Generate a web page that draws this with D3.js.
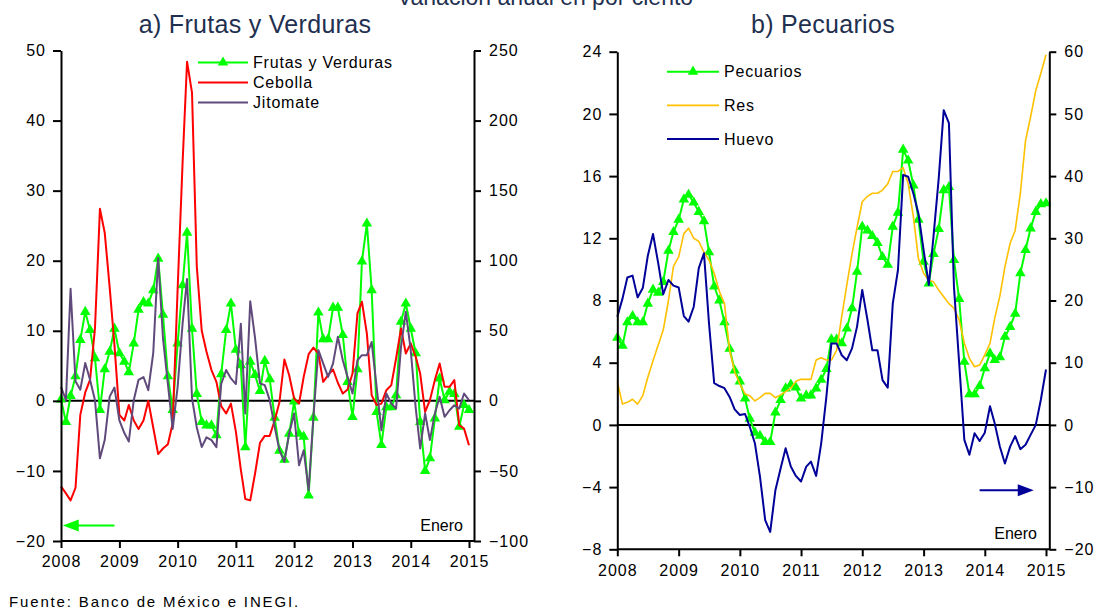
<!DOCTYPE html>
<html>
<head>
<meta charset="utf-8">
<script src="https://cdn.jsdelivr.net/npm/d3@7"></script>
<style>
  body { margin: 0; background: #fff; }
  svg { display: block; font-family: "Liberation Sans", Arial, sans-serif; }
</style>
</head>
<body>
<svg width="1096" height="612"></svg>
<script>
// monthly observations, Jan 2008 .. Jan 2015
const months = d3.timeMonths(new Date(2008, 0, 1), new Date(2015, 0, 2));
const years = d3.timeYears(new Date(2008, 0, 1), new Date(2015, 0, 2));

// a) Frutas y Verduras (left axis)
const frutasVerduras = [0.2, -3.0, 0.7, 3.5, 8.7, 12.7, 10.1, 6.1, -1.3, 4.5, 7.0, 10.3,
  6.8, 5.6, 4.1, 8.2, 13.0, 14.1, 13.9, 15.8, 20.3, 12.3, 3.5, -1.3,
  8.2, 16.5, 24.0, 10.3, 1.0, -3.0, -3.5, -3.5, -4.9, 3.8, 10.1, 13.9,
  7.3, 5.1, -6.6, 5.6, 3.7, 1.4, 5.7, 3.1, -2.4, -7.1, -8.4, -4.7,
  -0.1, -4.7, -5.1, -13.5, -2.4, 12.6, 8.8, 8.8, 13.3, 13.3, 9.4, 2.7,
  -2.3, 4.5, 19.9, 25.3, 15.8, -1.6, -6.3, -0.9, -0.9, 0.8, 11.3, 13.9,
  10.3, 6.8, -3.0, -10.0, -8.2, -2.5, 3.2, 0.1, 1.3, 1.0, -3.7, -0.6,
  -1.3];
// Cebolla (right axis)
const cebolla = [-61, -66, -71, -62, -10, 6, 15, 52, 137, 120, 81, 40,
  -10, -14, -3, -14, -20, -14, 0, -19, -38, -34, -31, -16,
  80, 170, 242, 220, 96, 50, 35, 22, 13.6, -3.8, -9, -2,
  -22, -49, -70, -71, -52, -30, -25, -25, -14, -1, 29.5, 18.3,
  1.7, -1.9, 17.1, 33.3, 38, 33.8, 13.6, 18.3, 22.4, 12.9, 5.2, 8.1,
  19.5, 62.4, 70.7, 48, 4, -3, -2, 7.6, 11.2, 30.2, 51.7, 33.8,
  41, 31.4, 19.5, -7.9, 0.5, 14.8, 26.7, 10, 10, 14.8, -17.4, -19.8,
  -31.7];
// Jitomate (right axis)
const jitomate = [10, 0.5, 80, 14, 8, 27, 15, 0.5, -41, -28, 3, 9.5,
  -14, -23, -29, 0.5, 15, 17, 7.6, 34, 102, 45, 12, -20,
  10, 55, 87, 2, -19, -33, -26, -28, -33, 12, 22, 16,
  12, 55, -9, 71, 45, 12.4, 11.2, 0.5, -18.6, -35.2, -43.6, -23.3,
  -9, -46, -35.2, -63.8, -11.4, 36.2, 26.7, 17.1, 26.7, 45.7, 29, 17.1,
  5.2, 29, 32.6, 32.6, 42, 10, -21, 5.2, -1.9, -5.5, 38.6, 63.6,
  36, -5, -34, -9, -28, -9, 3, -11.4, -6.7, -3.1, -5.5, 5.2,
  0.5];

// b) Pecuarios (left axis)
const pecuarios = [5.6, 5.1, 6.6, 7.0, 6.6, 6.6, 7.8, 8.7, 8.5, 9.2, 11.2, 12.4,
  13.2, 14.5, 14.8, 14.3, 13.7, 13.1, 11.1, 8.9, 8.0, 6.6, 4.9, 3.5,
  2.8, 1.7, 0.4, -0.5, -0.7, -1.1, -1.1, 0.8, 1.6, 2.35, 2.6, 2.4,
  1.7, 1.9, 1.9, 2.35, 2.9, 3.6, 5.5, 5.5, 5.25, 6.2, 7.5, 9.85,
  12.75, 12.5, 12.15, 11.7, 10.8, 10.3, 12.75, 13.65, 17.7, 17.0, 15.4, 13.2,
  10.5, 9.1, 11.0, 12.6, 15.1, 15.3, 10.6, 8.1, 4.06, 1.97, 1.97, 2.5,
  3.64, 4.6, 4.17, 4.35, 5.67, 6.3, 7.15, 9.75, 11.25, 12.64, 13.7, 14.2,
  14.25];
// Res (left axis)
const res = [2.78, 1.34, 1.45, 1.65, 1.34, 1.88, 3.06, 4.13, 5.14, 6.1, 8.0, 10.2,
  10.8, 12.3, 12.65, 12.0, 11.8, 11.1, 10.6, 9.75, 8.57, 7.8, 4.8, 3.42,
  2.63, 1.99, 1.88, 1.54, 1.75, 2.03, 2.03, 1.75, 1.93, 2.14, 2.36, 2.8,
  2.93, 2.93, 2.93, 4.17, 4.32, 4.17, 4.17, 4.8, 7.0, 9.0, 11.0, 12.7,
  14.35, 14.7, 14.9, 14.9, 15.1, 15.5, 16.3, 16.3, 16.54, 15.5, 13.4, 10.7,
  9.75, 9.3, 9.2, 8.67, 8.24, 7.8, 7.5, 6.75, 5.25, 4.28, 3.74, 3.85,
  4.5, 5.25, 6.85, 8.3, 10.17, 11.68, 12.5, 14.9, 18.3, 19.8, 21.5, 22.6,
  23.8];
// Huevo (right axis)
const huevo = [17.4, 20.3, 23.7, 24.0, 20.5, 22.0, 27.2, 30.7, 26.0, 21.0, 23.3, 22.4,
  22.1, 17.5, 16.6, 19.0, 25.2, 27.6, 16.3, 6.7, 6.25, 5.9, 4.5, 2.5,
  1.6, 1.75, -0.3, -3.0, -8.3, -15.3, -17.2, -10.5, -7.0, -3.76, -6.7, -8.2,
  -9.1, -6.7, -5.9, -8.2, -3.0, 4.5, 13.1, 13.1, 11.2, 10.4, 12.3, 15.8,
  21.7, 16.9, 12.0, 12.0, 7.2, 6.0, 19.5, 24.9, 40.2, 39.9, 37.2, 34.0,
  28.1, 22.5, 30.3, 39.6, 50.6, 48.5, 22.2, 10, -2.4, -4.8, -1.35, -2.6,
  -1.25, 3.0, 0.25, -3.5, -6.2, -3.5, -1.8, -3.9, -3.2, -1.6, 0, 4.0,
  8.9];

const ticksLa = [-20, -10, 0, 10, 20, 30, 40, 50];
const ticksRa = [-100, -50, 0, 50, 100, 150, 200, 250];
const ticksLb = [-8, -4, 0, 4, 8, 12, 16, 20, 24];
const ticksRb = [-20, -10, 0, 10, 20, 30, 40, 50, 60];

const svg = d3.select("svg");
const titleColor = "#1f3050";

// main title, cut by the top edge as in the source image
svg.append("text")
  .attr("x", 545).attr("y", 5)
  .attr("text-anchor", "middle")
  .attr("font-size", 23)
  .attr("fill", titleColor)
  .text("Variación anual en por ciento");

svg.append("text")
  .attr("x", 9).attr("y", 607)
  .attr("font-size", 15)
  .attr("letter-spacing", 1.85)
  .attr("fill", "#000")
  .text("Fuente: Banco de México e INEGI.");

function panel(cfg) {
  const g = svg.append("g");
  const x = d3.scaleTime().domain([months[0], months[months.length - 1]]).range([cfg.left, cfg.right]);
  const yL = d3.scaleLinear().domain(cfg.leftDomain).range([cfg.bottom, cfg.top]);
  const yR = d3.scaleLinear().domain(cfg.rightDomain).range([cfg.bottom, cfg.top]);

  g.append("text")
    .attr("x", cfg.titleX).attr("y", 33)
    .attr("text-anchor", "middle")
    .attr("font-size", 25)
    .attr("letter-spacing", 0.3)
    .attr("fill", titleColor)
    .text(cfg.title);

  // zero line
  g.append("line")
    .attr("x1", cfg.left).attr("x2", cfg.axisRight)
    .attr("y1", yL(0)).attr("y2", yL(0))
    .attr("stroke", "#000").attr("stroke-width", 2);

  // series
  cfg.series.forEach(s => {
    const y = s.axis === "right" ? yR : yL;
    const line = d3.line().x((d, i) => x(months[i])).y(d => y(d));
    g.append("path")
      .datum(s.values)
      .attr("d", line)
      .attr("fill", "none")
      .attr("stroke", s.color)
      .attr("stroke-width", s.width)
      .attr("stroke-linejoin", "round");
    if (s.marker) {
      g.append("g")
        .selectAll("path")
        .data(s.values)
        .join("path")
        .attr("d", d3.symbol(d3.symbolTriangle, 48))
        .attr("transform", (d, i) => `translate(${x(months[i])},${y(d)})`)
        .attr("fill", s.color);
    }
  });

  // axes
  const axL = g.append("g")
    .attr("transform", `translate(${cfg.left},0)`)
    .call(d3.axisLeft(yL).tickValues(cfg.leftTicks).tickSize(8).tickSizeOuter(0).tickPadding(7));
  const axR = g.append("g")
    .attr("transform", `translate(${cfg.axisRight},0)`)
    .call(d3.axisRight(yR).tickValues(cfg.rightTicks).tickSize(7).tickSizeOuter(0).tickPadding(8));
  const axB = g.append("g")
    .attr("transform", `translate(0,${cfg.bottom})`)
    .call(d3.axisBottom(x).tickValues(years).tickFormat(d3.timeFormat("%Y")).tickSize(7).tickSizeOuter(0).tickPadding(8));
  axB.select(".domain").remove();
  g.append("line")
    .attr("x1", cfg.left).attr("x2", cfg.axisRight)
    .attr("y1", cfg.bottom).attr("y2", cfg.bottom)
    .attr("stroke", "#000").attr("stroke-width", 2);

  [axL, axR, axB].forEach(ax => {
    ax.selectAll(".domain").attr("stroke-width", 2);
    ax.selectAll(".tick line").attr("stroke-width", 2);
    ax.selectAll("text")
      .attr("font-family", "Liberation Sans, Arial, sans-serif")
      .attr("font-size", 16)
      .attr("letter-spacing", 1)
      .attr("fill", "#000");
  });

  // "Enero" note
  g.append("text")
    .attr("x", cfg.eneroX).attr("y", cfg.bottom - 10)
    .attr("text-anchor", "end")
    .attr("font-size", 16)
    .attr("fill", "#000")
    .text("Enero");

  // legend
  const lg = g.append("g");
  cfg.series.forEach((s, i) => {
    const ly = cfg.legend.y + i * cfg.legend.step;
    lg.append("line")
      .attr("x1", cfg.legend.x).attr("x2", cfg.legend.x + cfg.legend.len)
      .attr("y1", ly).attr("y2", ly)
      .attr("stroke", s.color).attr("stroke-width", s.width);
    if (s.marker) {
      lg.append("path")
        .attr("d", d3.symbol(d3.symbolTriangle, 48))
        .attr("transform", `translate(${cfg.legend.x + cfg.legend.len / 2},${ly})`)
        .attr("fill", s.color);
    }
    lg.append("text")
      .attr("x", cfg.legend.x + cfg.legend.len + 5).attr("y", ly + 5.5)
      .attr("font-size", 16)
      .attr("letter-spacing", 0.8)
      .attr("fill", "#000")
      .text(s.name);
  });

  // axis arrow
  const a = cfg.arrow;
  const ay = (a.axis === "right" ? yR : yL)(a.value);
  const x0 = x(a.from), x1 = x(a.to);
  const dir = Math.sign(x1 - x0);
  g.append("line")
    .attr("x1", x0).attr("x2", x1 - dir * 14)
    .attr("y1", ay).attr("y2", ay)
    .attr("stroke", a.color).attr("stroke-width", 2);
  g.append("path")
    .attr("d", `M${x1},${ay} L${x1 - dir * 16},${ay - 6} L${x1 - dir * 16},${ay + 6} Z`)
    .attr("fill", a.color);
}

panel({
  title: "a) Frutas y Verduras", titleX: 255,
  left: 61, right: 469, axisRight: 474, top: 50.5, bottom: 541,
  leftDomain: [-20, 50], rightDomain: [-100, 250],
  leftTicks: ticksLa, rightTicks: ticksRa,
  eneroX: 463,
  series: [
    { name: "Frutas y Verduras", values: frutasVerduras, color: "#00ff00", width: 2, marker: true, axis: "left" },
    { name: "Cebolla", values: cebolla, color: "#ff0000", width: 2, axis: "right" },
    { name: "Jitomate", values: jitomate, color: "#604a7b", width: 2, axis: "right" }
  ],
  legend: { x: 198, len: 50, y: 62.5, step: 20 },
  arrow: { axis: "left", value: -17.8, from: new Date(2008, 11, 1), to: new Date(2008, 0, 12), color: "#00ff00" }
});

panel({
  title: "b) Pecuarios", titleX: 823,
  left: 617.3, right: 1046, axisRight: 1049.3, top: 51.7, bottom: 549.3,
  leftDomain: [-8, 24], rightDomain: [-20, 60],
  leftTicks: ticksLb, rightTicks: ticksRb,
  eneroX: 1037,
  series: [
    { name: "Pecuarios", values: pecuarios, color: "#00ff00", width: 2, marker: true, axis: "left" },
    { name: "Res", values: res, color: "#ffc000", width: 1.6, axis: "left" },
    { name: "Huevo", values: huevo, color: "#000099", width: 2, axis: "right" }
  ],
  legend: { x: 667, len: 52, y: 71.7, step: 33.7 },
  arrow: { axis: "right", value: -10.5, from: new Date(2013, 11, 1), to: new Date(2014, 9, 20), color: "#000099" }
});
</script>
</body>
</html>
